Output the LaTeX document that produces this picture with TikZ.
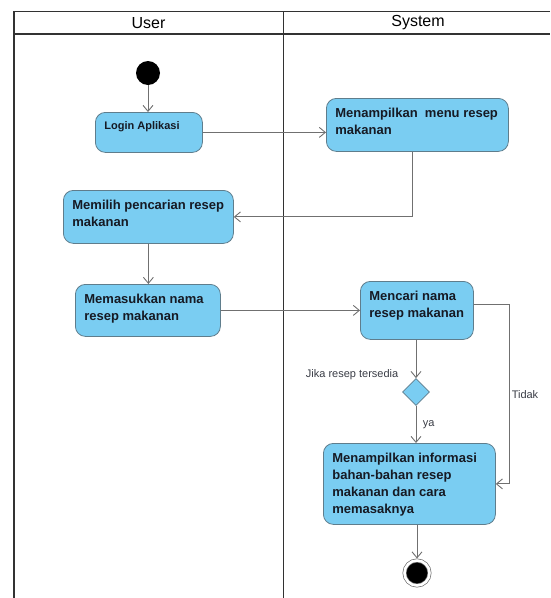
\documentclass[tikz,border=0pt]{standalone}
\usepackage{fontspec}
\setmainfont{Liberation Sans}
\usetikzlibrary{arrows.meta,positioning,calc,shapes.geometric}

\definecolor{actfill}{RGB}{122,205,242}
\definecolor{actline}{RGB}{95,125,140}
\definecolor{flowgray}{RGB}{112,112,112}
\definecolor{lanegray}{RGB}{50,50,50}
\definecolor{acttext}{RGB}{22,26,36}

% text of an activity: width, height, lines
\newcommand{\actbody}[3]{\parbox[c][#2][t]{#1}{\begin{tabular}[t]{@{}l@{}}#3\end{tabular}}}

\begin{document}
\begin{tikzpicture}[x=1pt,y=-1pt,
    act/.style={draw=actline, fill=actfill, line width=0.8pt, rounded corners=10pt,
      anchor=north west, inner xsep=9pt, inner ysep=7.5pt, text=acttext,
      font=\bfseries\fontsize{13}{17}\selectfont},
    flow/.style={draw=flowgray, line width=0.9pt, -{Straight Barb[length=6pt,width=10pt]}},
    lane/.style={draw=lanegray, line width=1.4pt},
    guard/.style={font=\fontsize{11}{13}\selectfont, text=acttext!85, inner sep=1.5pt}]
    \useasboundingbox (0,0) rectangle (550,598);

    % Swimlanes
    \draw[lane] (550,11.5) -| (14,598);
    \draw[lane] (14,34) -- (550,34);
    \draw[lane] (283.5,11.5) -- (283.5,598);
    \node[font=\fontsize{16}{18}\selectfont] (user) at (148.5,23) {User};
    \node[font=\fontsize{16}{18}\selectfont] (system) at (418,23) {System};

    % User lane
    \node[circle, fill=black, minimum size=24pt, inner sep=0pt] (start) at (148,73) {};
    \node[act, font=\bfseries\fontsize{11}{14}\selectfont] (login) at (95,112)
        {\actbody{89pt}{25pt}{Login Aplikasi}};
    \node[act] (memilih) at (63,190) {\actbody{152pt}{38pt}{Memilih pencarian resep\\makanan}};
    \node[act] (memasukkan) at (75,284) {\actbody{127pt}{37pt}{Memasukkan nama\\resep makanan}};

    % System lane
    \node[act] (menu) at (326,98) {\actbody{164pt}{38pt}{Menampilkan~ menu resep\\makanan}};
    \node[act] (mencari) at (360,281) {\actbody{95pt}{43pt}{Mencari nama\\resep makanan}};
    \node[diamond, draw=actline, fill=actfill, line width=0.8pt, minimum size=27pt,
        inner sep=0pt] (dec) at (416,392) {};
    \node[act] (info) at (323,443)
        {\actbody{154pt}{66pt}{Menampilkan informasi\\bahan-bahan resep\\makanan dan cara\\memasaknya}};
    \node[circle, fill=black, draw=flowgray, line width=0.7pt, double=white,
        double distance=2.6pt, minimum size=25pt, inner sep=0pt, outer sep=2pt] (end) at (417,573) {};

    % Flows
    \draw[flow] (start.south) -- (start.south |- login.north);
    \draw[flow] (login.east) -- (login.east -| menu.west);
    \draw[flow] ([xshift=-5pt]menu.south) |- (memilih.east);
    \draw[flow] (memilih.south) -- (memilih.south |- memasukkan.north);
    \draw[flow] (memasukkan.east) -- (memasukkan.east -| mencari.west);
    \draw[flow] (mencari.south -| dec.north) -- (dec.north);
    \node[guard, anchor=east] (jika) at ([xshift=-16pt,yshift=17pt]dec.center) {Jika resep tersedia};
    \draw[flow] (dec.south) -- (dec.south |- info.north)
        node[midway, right, xshift=5pt, guard] (ya) {ya};
    \draw[flow] ([yshift=6pt]mencari.east) -- ++(36,0) |- (info.east)
        node[pos=0.25, right, guard] (tidak) {Tidak};
    \draw[flow] (info.south -| end.north) -- (end.north);
\end{tikzpicture}
\end{document}
